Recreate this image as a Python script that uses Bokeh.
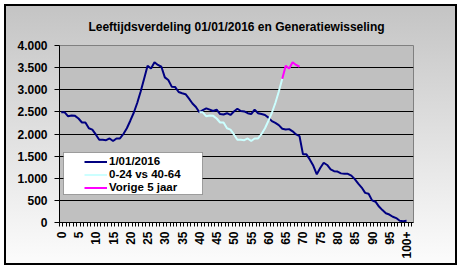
import math
from bokeh.plotting import figure
from bokeh.models import Range1d, FixedTicker, Legend, LegendItem, BoxAnnotation, InlineStyleSheet
from bokeh.embed import file_html
from bokeh.resources import INLINE

# ---- data ----
ages = list(range(0, 101))
pop_2016 = [2490, 2490, 2400, 2420, 2410, 2350, 2260, 2260, 2130, 2100,
            1990, 1870, 1870, 1860, 1900, 1840, 1900, 1900, 2000, 2130,
            2300, 2480, 2700, 2960, 3250, 3540, 3480, 3620, 3560, 3520,
            3280, 3220, 3070, 3060, 2950, 2920, 2900, 2800, 2690, 2610,
            2490, 2540, 2580, 2550, 2520, 2550, 2450, 2440, 2470, 2430,
            2510, 2570, 2520, 2510, 2470, 2450, 2550, 2470, 2450, 2430,
            2370, 2290, 2250, 2200, 2120, 2100, 2110, 2060, 1990, 1950,
            1540, 1540, 1420, 1280, 1090, 1230, 1350, 1300, 1200, 1160,
            1150, 1110, 1100, 1100, 1060, 980, 880, 790, 670, 650,
            500, 470, 360, 280, 210, 180, 130, 100, 40, 30,
            40]

ages_0_24_vs_40_64 = list(range(40, 65))
pop_0_24_vs_40_64 = [2490, 2490, 2400, 2420, 2410, 2350, 2260, 2260, 2130, 2100,
                     1990, 1870, 1870, 1860, 1900, 1840, 1900, 1900, 2000, 2130,
                     2300, 2480, 2700, 2960, 3250]

ages_prev5 = list(range(64, 70))
pop_prev5 = [3250, 3540, 3480, 3620, 3560, 3520]

x_tick_pos = list(range(0, 101, 5))
x_tick_labels = [str(v) for v in range(0, 100, 5)] + ["100+"]
y_ticks = [0, 500, 1000, 1500, 2000, 2500, 3000, 3500, 4000]
y_tick_labels = ["0", "500", "1.000", "1.500", "2.000", "2.500", "3.000", "3.500", "4.000"]

title_text = "Leeftijdsverdeling 01/01/2016 en Generatiewisseling"
series_names = ["1/01/2016", "0-24 vs 40-64", "Vorige 5 jaar"]

FONT = "Liberation Sans"
GRADIENT = "linear-gradient(to bottom, #c4c4c4 0%, #f0f0f0 78%, #fcfcfc 100%)"

p = figure(width=449, height=257, output_backend="svg", toolbar_location=None,
           x_range=Range1d(-0.5, 102), y_range=Range1d(0, 4000),
           min_border_left=53, min_border_right=42, min_border_top=38, min_border_bottom=41)
p.styles = {"margin-left": "6px", "margin-top": "6px",
            "outline": "2px solid black",
            "background": GRADIENT}
p.stylesheets = [InlineStyleSheet(css=":host { background: %s !important; } "
                                      ".bk-Canvas, .bk-layer, canvas, svg { background: transparent !important; }" % GRADIENT)]
p.border_fill_color = "white"
p.border_fill_alpha = 0.0
p.background_fill_color = "#c0c0c0"
p.outline_line_color = "#808080"
p.outline_line_width = 1

# title
p.title.text = title_text
p.title.align = "center"
p.title.offset = -7
p.title.text_font = FONT
p.title.text_font_style = "bold"
p.title.text_font_size = "12px"
p.title.text_color = "black"
p.title.standoff = 23

# axes
xa = p.xaxis[0]
xa.ticker = FixedTicker(ticks=x_tick_pos, minor_ticks=[k - 0.5 for k in range(0, 104)])
xa.major_label_overrides = dict(zip(x_tick_pos, x_tick_labels))
xa.major_label_orientation = math.pi / 2
xa.major_tick_out = 0
xa.major_tick_in = 0
xa.minor_tick_out = 4
xa.minor_tick_in = 0
xa.minor_tick_line_color = "black"
xa.major_label_standoff = 5
xa.axis_line_color = "black"

ya = p.yaxis[0]
ya.ticker = FixedTicker(ticks=y_ticks)
ya.major_label_overrides = dict(zip(y_ticks, y_tick_labels))
ya.major_tick_out = 5
ya.major_tick_in = 0
ya.minor_tick_line_color = None
ya.major_label_standoff = 7
ya.axis_line_color = "black"

for ax in (xa, ya):
    ax.major_label_text_font = FONT
    ax.major_label_text_font_style = "bold"
    ax.major_label_text_font_size = "12px"
    ax.major_label_text_color = "black"
    ax.major_tick_line_color = "black"

p.xgrid.visible = False
p.ygrid.ticker = FixedTicker(ticks=y_ticks[1:-1])
p.ygrid.grid_line_color = "black"
p.ygrid.grid_line_width = 1

r1 = p.line(ages, pop_2016, line_color="#000080", line_width=2)
r2 = p.line(ages_0_24_vs_40_64, pop_0_24_vs_40_64, line_color="#ccffff", line_width=2)
r3 = p.line(ages_prev5, pop_prev5, line_color="#ff00ff", line_width=2)

# legend box + one legend row per series (tight Excel-like row spacing)
p.add_layout(BoxAnnotation(left=4, right=143, bottom=28, top=70,
                           left_units="screen", right_units="screen",
                           bottom_units="screen", top_units="screen",
                           fill_color="white", fill_alpha=1,
                           line_color="black", line_width=1))
row_bottoms = [55, 42, 29]
for name, rend, yb in zip(series_names, [r1, r2, r3], row_bottoms):
    lg = Legend(items=[LegendItem(label=name, renderers=[rend])],
                location=(25, yb), padding=0, spacing=0, margin=0,
                glyph_width=23, glyph_height=11, label_height=11, label_standoff=2,
                border_line_alpha=0, background_fill_alpha=0,
                label_text_font=FONT, label_text_font_style="bold",
                label_text_font_size="11.5px", label_text_color="black")
    p.add_layout(lg)

open("out.html", "w").write(file_html(p, INLINE, title="chart"))
